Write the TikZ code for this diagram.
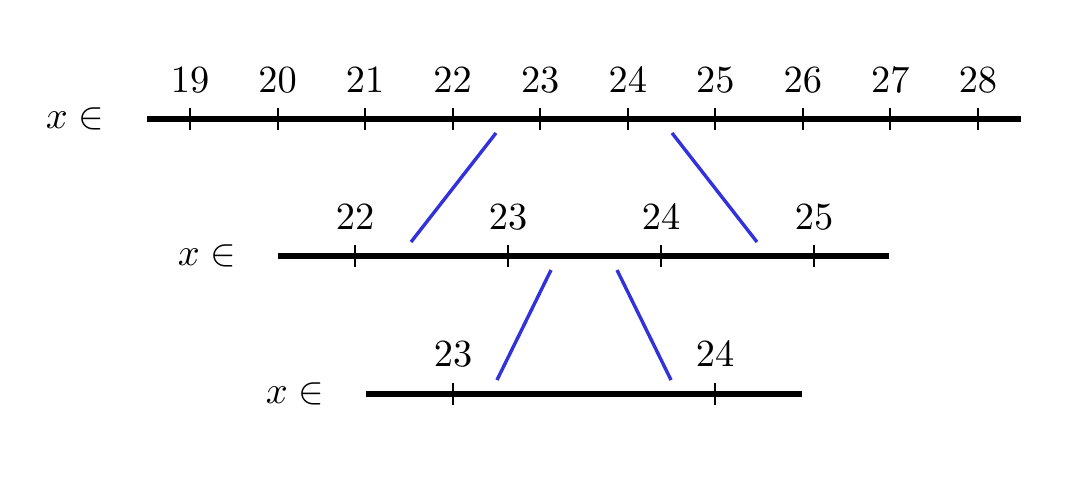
\documentclass[tikz,border=0pt]{standalone}
\usepackage{tikz}
\definecolor{zoomblue}{RGB}{50,50,220}
\newcommand{\sbx}[1]{\scalebox{1.92}{#1}}
\begin{document}
\begin{tikzpicture}[x=0.5pt,y=-0.5pt,
  axis/.style={line width=2.8pt},
  tick/.style={line width=1pt},
  zoomline/.style={zoomblue,line width=1.7pt},
  num/.style={anchor=base,inner sep=0pt,font=\fontsize{10}{12}\selectfont},
  lab/.style={anchor=base,inner sep=0pt,font=\fontsize{10}{12}\selectfont}]
\useasboundingbox (0,0) rectangle (1081,478);
% row 1
\node[lab] (l1) at (75,128) {\sbx{$x\in$}};
\draw[axis] (147,119) -- (1021,119);
\foreach \v [count=\i from 0] in {19,...,28}{
  \pgfmathsetmacro{\xx}{190+87.55*\i}
  \draw[tick] (\xx,108) -- (\xx,130);
  \node[num] (a\v) at (\xx,92) {\sbx{$\v$}};
}
% row 2
\node[lab] (l2) at (207,265) {\sbx{$x\in$}};
\draw[axis] (278,256) -- (889,256);
\foreach \v [count=\i from 0] in {22,...,25}{
  \pgfmathsetmacro{\xx}{355+153*\i}
  \draw[tick] (\xx,245) -- (\xx,267);
  \node[num] (b\v) at (\xx,229) {\sbx{$\v$}};
}
% row 3
\node[lab] (l3) at (295,403) {\sbx{$x\in$}};
\draw[axis] (366,394) -- (802,394);
\foreach \v [count=\i from 0] in {23,24}{
  \pgfmathsetmacro{\xx}{453+262*\i}
  \draw[tick] (\xx,383) -- (\xx,405);
  \node[num] (c\v) at (\xx,366) {\sbx{$\v$}};
}
% zoom lines
\coordinate (p1) at (496,133);
\coordinate (q1) at (411,242);
\coordinate (p2) at (672,133);
\coordinate (q2) at (757,242);
\coordinate (p3) at (551,270);
\coordinate (q3) at (497,380);
\coordinate (p4) at (617,270);
\coordinate (q4) at (671,380);
\draw[zoomline] (p1) -- (q1);
\draw[zoomline] (p2) -- (q2);
\draw[zoomline] (p3) -- (q3);
\draw[zoomline] (p4) -- (q4);
\end{tikzpicture}
\end{document}
